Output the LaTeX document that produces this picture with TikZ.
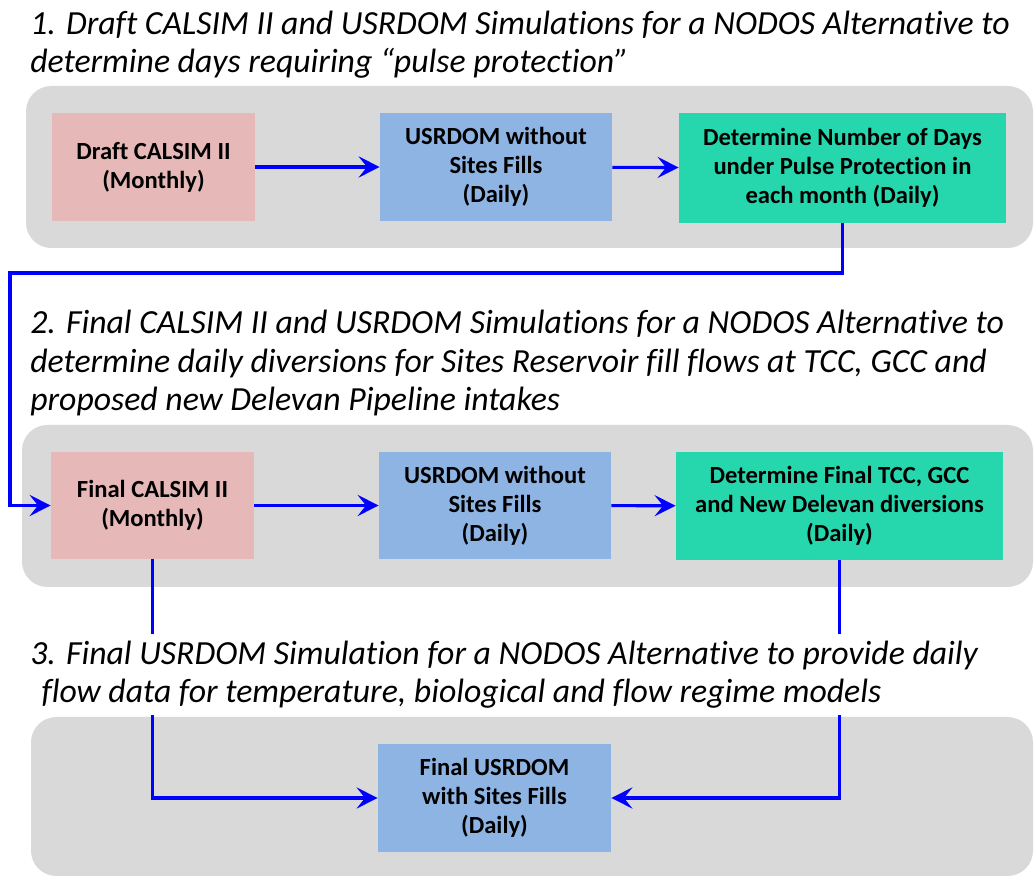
\documentclass[tikz,border=0pt]{standalone}
\usepackage{fontspec}
\setmainfont{Carlito}[Ligatures=NoCommon]
\usetikzlibrary{positioning, arrows.meta}

\definecolor{calpink}{HTML}{E6B9B8}
\definecolor{usrblue}{HTML}{8EB4E3}
\definecolor{detgreen}{HTML}{26D7AE}
\definecolor{panelgray}{HTML}{D9D9D9}
\definecolor{flowblue}{HTML}{0000FF}

\begin{document}
\begin{tikzpicture}[
            x=0.025cm, y=-0.025cm,
            panel/.style={fill=panelgray, rounded corners=18pt},
            stage/.style={font=\fontsize{24}{27.7}\selectfont\itshape, anchor=base west, align=left, inner sep=0pt},
            model/.style={rectangle, font=\fontsize{17.5}{20.6}\selectfont\bfseries, align=center, minimum height=2.675cm, inner sep=2pt},
            calsim/.style={model, fill=calpink, minimum width=5.075cm},
            usrdom/.style={model, fill=usrblue, minimum width=5.8cm},
            result/.style={model, fill=detgreen, minimum width=8.175cm},
            flow/.style={draw=flowblue, line width=2.2pt, -{Stealth[length=15pt, width=15pt, inset=6pt]}}
        ]
            \useasboundingbox (0,0) rectangle (1035,878);

            % grey panels
            \fill[panel] (26,86) rectangle (1033,248);
            \fill[panel] (22,425) rectangle (1033,587);
            \fill[panel] (31,717) rectangle (1033,876);

            % stage headings (anchored at the last line)
            \node[stage] (title1) at (30,73) {1. Draft CALSIM II and USRDOM Simulations for a NODOS Alternative to\\determine days requiring “pulse protection”};
            \node[stage] (title2) at (30,411) {2. Final CALSIM II and USRDOM Simulations for a NODOS Alternative to\\determine daily diversions for Sites Reservoir fill flows at TCC, GCC and\\proposed new Delevan Pipeline intakes};

            % stage 1
            \node[calsim] (draft) at (153.5,167) {Draft CALSIM II\\(Monthly)};
            \node[usrdom] (usr1) at (496,167) {USRDOM without\\Sites Fills\\(Daily)};
            \node[result, minimum height=2.725cm] (days) at (842.5,168) {Determine Number of Days\\under Pulse Protection in\\each month (Daily)};

            % stage 2
            \node[calsim] (final) at (152.5,505.5) {Final CALSIM II\\(Monthly)};
            \node[usrdom] (usr2) at (495,505.5) {USRDOM without\\Sites Fills\\(Daily)};
            \node[result] (divs) at (839.5,506) {Determine Final TCC, GCC\\and New Delevan diversions\\(Daily)};

            % stage 3
            \node[usrdom, minimum width=5.825cm] (fusr) at (494.5,798) {Final USRDOM\\with Sites Fills\\(Daily)};

            \coordinate (bend) at (10,273);

            \draw[flow] (draft) -- (usr1);
            \draw[flow] (usr1) -- (days);
            \draw[flow] (days.south) |- (bend) |- (final.west);
            \draw[flow] (final) -- (usr2);
            \draw[flow] (usr2) -- (divs);
            \draw[flow] (final.south) |- (fusr.west);
            \draw[flow] (divs.south) |- (fusr.east);

            % heading 3 sits on a white box over the two lines
            \node[stage, fill=white, inner ysep=4.5pt] (title3) at (30,703) {3. Final USRDOM Simulation for a NODOS Alternative to provide daily\\\hspace*{8pt}flow data for temperature, biological and flow regime models};
        \end{tikzpicture}
\end{document}
